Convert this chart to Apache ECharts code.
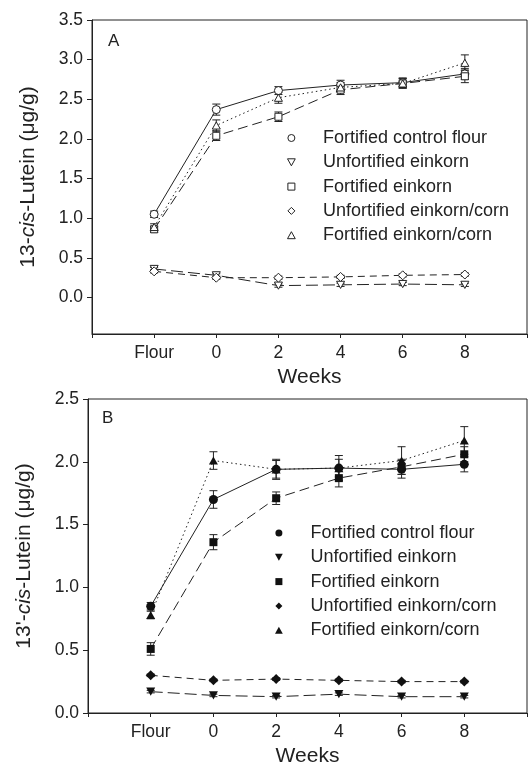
<!DOCTYPE html>
<html>
<head>
<meta charset="utf-8">
<script src="https://cdn.jsdelivr.net/npm/echarts@6/dist/echarts.min.js"></script>
<style>
  html, body { margin: 0; padding: 0; background: #fff; }
  #chart { width: 530px; height: 768px; }
</style>
</head>
<body>
<div id="chart"></div>
<script>
// Sampling points along the x axis
const stages = ['Flour', '0', '2', '4', '6', '8'];
const groupNames = [
  'Fortified control flour',
  'Unfortified einkorn',
  'Fortified einkorn',
  'Unfortified einkorn/corn',
  'Fortified einkorn/corn'
];
const yTicksA = [0, 0.5, 1.0, 1.5, 2.0, 2.5, 3.0, 3.5];
const yTicksB = [0, 0.5, 1.0, 1.5, 2.0, 2.5];

// Panel A: 13-cis-lutein (µg/g), mean and SD
const aControl      = [1.05, 2.37, 2.61, 2.68, 2.71, 2.82];
const aControlSd    = [0.04, 0.07, 0.05, 0.06, 0.06, 0.07];
const aUnfEinkorn   = [0.36, 0.28, 0.15, 0.16, 0.17, 0.16];
const aUnfEinkornSd = [0.02, 0.02, 0.02, 0.02, 0.02, 0.02];
const aFortEinkorn  = [0.86, 2.04, 2.28, 2.62, 2.70, 2.79];
const aFortEinkornSd= [0.04, 0.06, 0.06, 0.06, 0.06, 0.08];
const aUnfCorn      = [0.33, 0.25, 0.25, 0.26, 0.28, 0.29];
const aUnfCornSd    = [0.02, 0.02, 0.02, 0.02, 0.02, 0.02];
const aFortCorn     = [0.89, 2.17, 2.52, 2.65, 2.70, 2.96];
const aFortCornSd   = [0.04, 0.07, 0.07, 0.06, 0.06, 0.10];

// Panel B: 13'-cis-lutein (µg/g), mean and SD
const bControl      = [0.85, 1.70, 1.94, 1.95, 1.94, 1.98];
const bControlSd    = [0.03, 0.07, 0.08, 0.07, 0.07, 0.06];
const bUnfEinkorn   = [0.17, 0.14, 0.13, 0.15, 0.13, 0.13];
const bUnfEinkornSd = [0.01, 0.01, 0.01, 0.01, 0.01, 0.01];
const bFortEinkorn  = [0.51, 1.36, 1.71, 1.87, 1.96, 2.06];
const bFortEinkornSd= [0.05, 0.06, 0.05, 0.07, 0.06, 0.06];
const bUnfCorn      = [0.30, 0.26, 0.27, 0.26, 0.25, 0.25];
const bUnfCornSd    = [0.01, 0.01, 0.01, 0.01, 0.01, 0.01];
const bFortCorn     = [0.78, 2.01, 1.94, 1.95, 2.01, 2.17];
const bFortCornSd   = [0.03, 0.07, 0.07, 0.10, 0.11, 0.11];

const FONT = "'Liberation Sans', Arial, Helvetica, sans-serif";
const INK = '#222';

// Marker outlines as paths so legend icons keep their proportions
const SYM_CIRCLE  = 'circle';
const SYM_INV_TRI = 'path://M0,0L10,0L5,9Z';
const SYM_SQUARE  = 'path://M0,0H10V10H0Z';
const SYM_DIAMOND = 'path://M5,0L10,5L5,10L0,5Z';
const SYM_TRI     = 'path://M5,0L10,9L0,9Z';

// Marker and line look for each group (same order as groupNames)
const looks = [
  { symbol: SYM_CIRCLE,  sizeA: 8, sizeB: 9,  dash: 'solid' },
  { symbol: SYM_INV_TRI, sizeA: 8, sizeB: 9,  dash: [12, 5] },
  { symbol: SYM_SQUARE,  sizeA: 7, sizeB: 8,  dash: [10, 5] },
  { symbol: SYM_DIAMOND, sizeA: 9, sizeB: 10, dash: [7, 5] },
  { symbol: SYM_TRI,     sizeA: 8, sizeB: 9,  dash: [1.5, 3] }
];

const panelA = [
  [aControl, aControlSd], [aUnfEinkorn, aUnfEinkornSd], [aFortEinkorn, aFortEinkornSd],
  [aUnfCorn, aUnfCornSd], [aFortCorn, aFortCornSd]
];
const panelB = [
  [bControl, bControlSd], [bUnfEinkorn, bUnfEinkornSd], [bFortEinkorn, bFortEinkornSd],
  [bUnfCorn, bUnfCornSd], [bFortCorn, bFortCornSd]
];

function errorBars(axisIdx, vals, sds) {
  return {
    type: 'custom',
    xAxisIndex: axisIdx,
    yAxisIndex: axisIdx,
    silent: true,
    z: 1,
    data: vals.map((v, i) => [i, v - sds[i], v + sds[i]]),
    encode: { x: 0, y: [1, 2] },
    renderItem: function (params, api) {
      const x = api.value(0);
      const lo = api.coord([x, api.value(1)]);
      const hi = api.coord([x, api.value(2)]);
      const w = 4;
      const st = { stroke: INK, lineWidth: 1 };
      return {
        type: 'group',
        children: [
          { type: 'line', shape: { x1: lo[0], y1: lo[1], x2: hi[0], y2: hi[1] }, style: st },
          { type: 'line', shape: { x1: lo[0] - w, y1: lo[1], x2: lo[0] + w, y2: lo[1] }, style: st },
          { type: 'line', shape: { x1: hi[0] - w, y1: hi[1], x2: hi[0] + w, y2: hi[1] }, style: st }
        ]
      };
    }
  };
}

function lineSeries(axisIdx, prefix, k, vals, filled) {
  const lk = looks[k];
  return {
    type: 'line',
    name: prefix + groupNames[k],
    xAxisIndex: axisIdx,
    yAxisIndex: axisIdx,
    data: vals.map((v, i) => [i, v]),
    symbol: lk.symbol,
    symbolSize: filled ? lk.sizeB : lk.sizeA,
    symbolKeepAspect: true,
    showAllSymbol: true,
    z: 3,
    itemStyle: filled
      ? { color: '#111', borderColor: '#111', borderWidth: 0 }
      : { color: '#fff', borderColor: INK, borderWidth: 1 },
    lineStyle: { color: INK, width: 1, type: lk.dash },
    emphasis: { disabled: true }
  };
}

const series = [];
panelA.forEach(p => series.push(errorBars(0, p[0], p[1])));
panelA.forEach((p, k) => series.push(lineSeries(0, 'A ', k, p[0], false)));
panelB.forEach(p => series.push(errorBars(1, p[0], p[1])));
panelB.forEach((p, k) => series.push(lineSeries(1, 'B ', k, p[0], true)));

function legendFor(prefix, filled, left, top) {
  return {
    orient: 'vertical',
    left: left,
    top: top,
    padding: 0,
    itemWidth: 53,
    itemHeight: 7,
    itemGap: 6.3,
    symbolKeepAspect: true,
    selectedMode: false,
    formatter: name => name.slice(prefix.length),
    textStyle: { fontFamily: FONT, fontSize: 18, color: INK, lineHeight: 18, padding: 0 },
    data: groupNames.map((g, k) => ({
      name: prefix + g,
      icon: looks[k].symbol,
      itemStyle: filled
        ? { color: '#111', borderColor: '#111', borderWidth: 0 }
        : { color: '#fff', borderColor: INK, borderWidth: 1 }
    }))
  };
}

function xAxisFor(gridIndex) {
  return {
    type: 'value',
    gridIndex: gridIndex,
    min: -1,
    max: 6,
    interval: 1,
    name: 'Weeks',
    nameLocation: 'middle',
    nameGap: 33,
    nameTextStyle: { fontFamily: FONT, fontSize: 21, color: INK },
    axisLine: { onZero: false, lineStyle: { color: INK, width: 1 } },
    axisTick: { show: true, inside: false, length: 4, lineStyle: { color: INK } },
    axisLabel: {
      fontFamily: FONT, fontSize: 17.5, color: INK, margin: 10,
      formatter: v => (v >= 0 && v < stages.length) ? stages[v] : ''
    },
    splitLine: { show: false }
  };
}

function yAxisFor(gridIndex, min, max, ticks, name) {
  return {
    type: 'value',
    gridIndex: gridIndex,
    min: min,
    max: max,
    name: name,
    nameLocation: 'middle',
    nameRotate: 90,
    nameGap: 53,
    nameTextStyle: {
      fontFamily: FONT, fontSize: 21, color: INK,
      rich: {
        n: { fontFamily: FONT, fontSize: 21, color: INK },
        i: { fontFamily: FONT, fontSize: 21, color: INK, fontStyle: 'italic' }
      }
    },
    axisLine: { onZero: false, lineStyle: { color: INK, width: 1 } },
    axisTick: { show: true, inside: false, length: 5, lineStyle: { color: INK }, customValues: ticks },
    axisLabel: {
      fontFamily: FONT, fontSize: 17.5, color: INK, margin: 9,
      customValues: ticks,
      formatter: v => v.toFixed(1)
    },
    splitLine: { show: false }
  };
}

const chart = echarts.init(document.getElementById('chart'), null, { renderer: 'canvas' });
chart.setOption({
  animation: false,
  backgroundColor: '#fff',
  grid: [
    { left: 92, top: 20, width: 446, height: 314, show: true, borderColor: INK, borderWidth: 1 },
    { left: 88, top: 399, width: 447, height: 314, show: true, borderColor: INK, borderWidth: 1 }
  ],
  xAxis: [xAxisFor(0), xAxisFor(1)],
  yAxis: [
    yAxisFor(0, -0.46, 3.5, yTicksA, '{n|13-}{i|cis}{n|-Lutein (μg/g)}'),
    yAxisFor(1, 0, 2.5, yTicksB, "{n|13'-}{i|cis}{n|-Lutein (μg/g)}")
  ],
  legend: [
    legendFor('A ', false, 287, 129),
    legendFor('B ', true, 275, 524)
  ],
  graphic: [
    { type: 'text', left: 108, top: 33, style: { text: 'A', fontFamily: FONT, fontSize: 17, fill: INK } },
    { type: 'text', left: 102, top: 410, style: { text: 'B', fontFamily: FONT, fontSize: 17, fill: INK } }
  ],
  series: series
});
</script>
</body>
</html>
